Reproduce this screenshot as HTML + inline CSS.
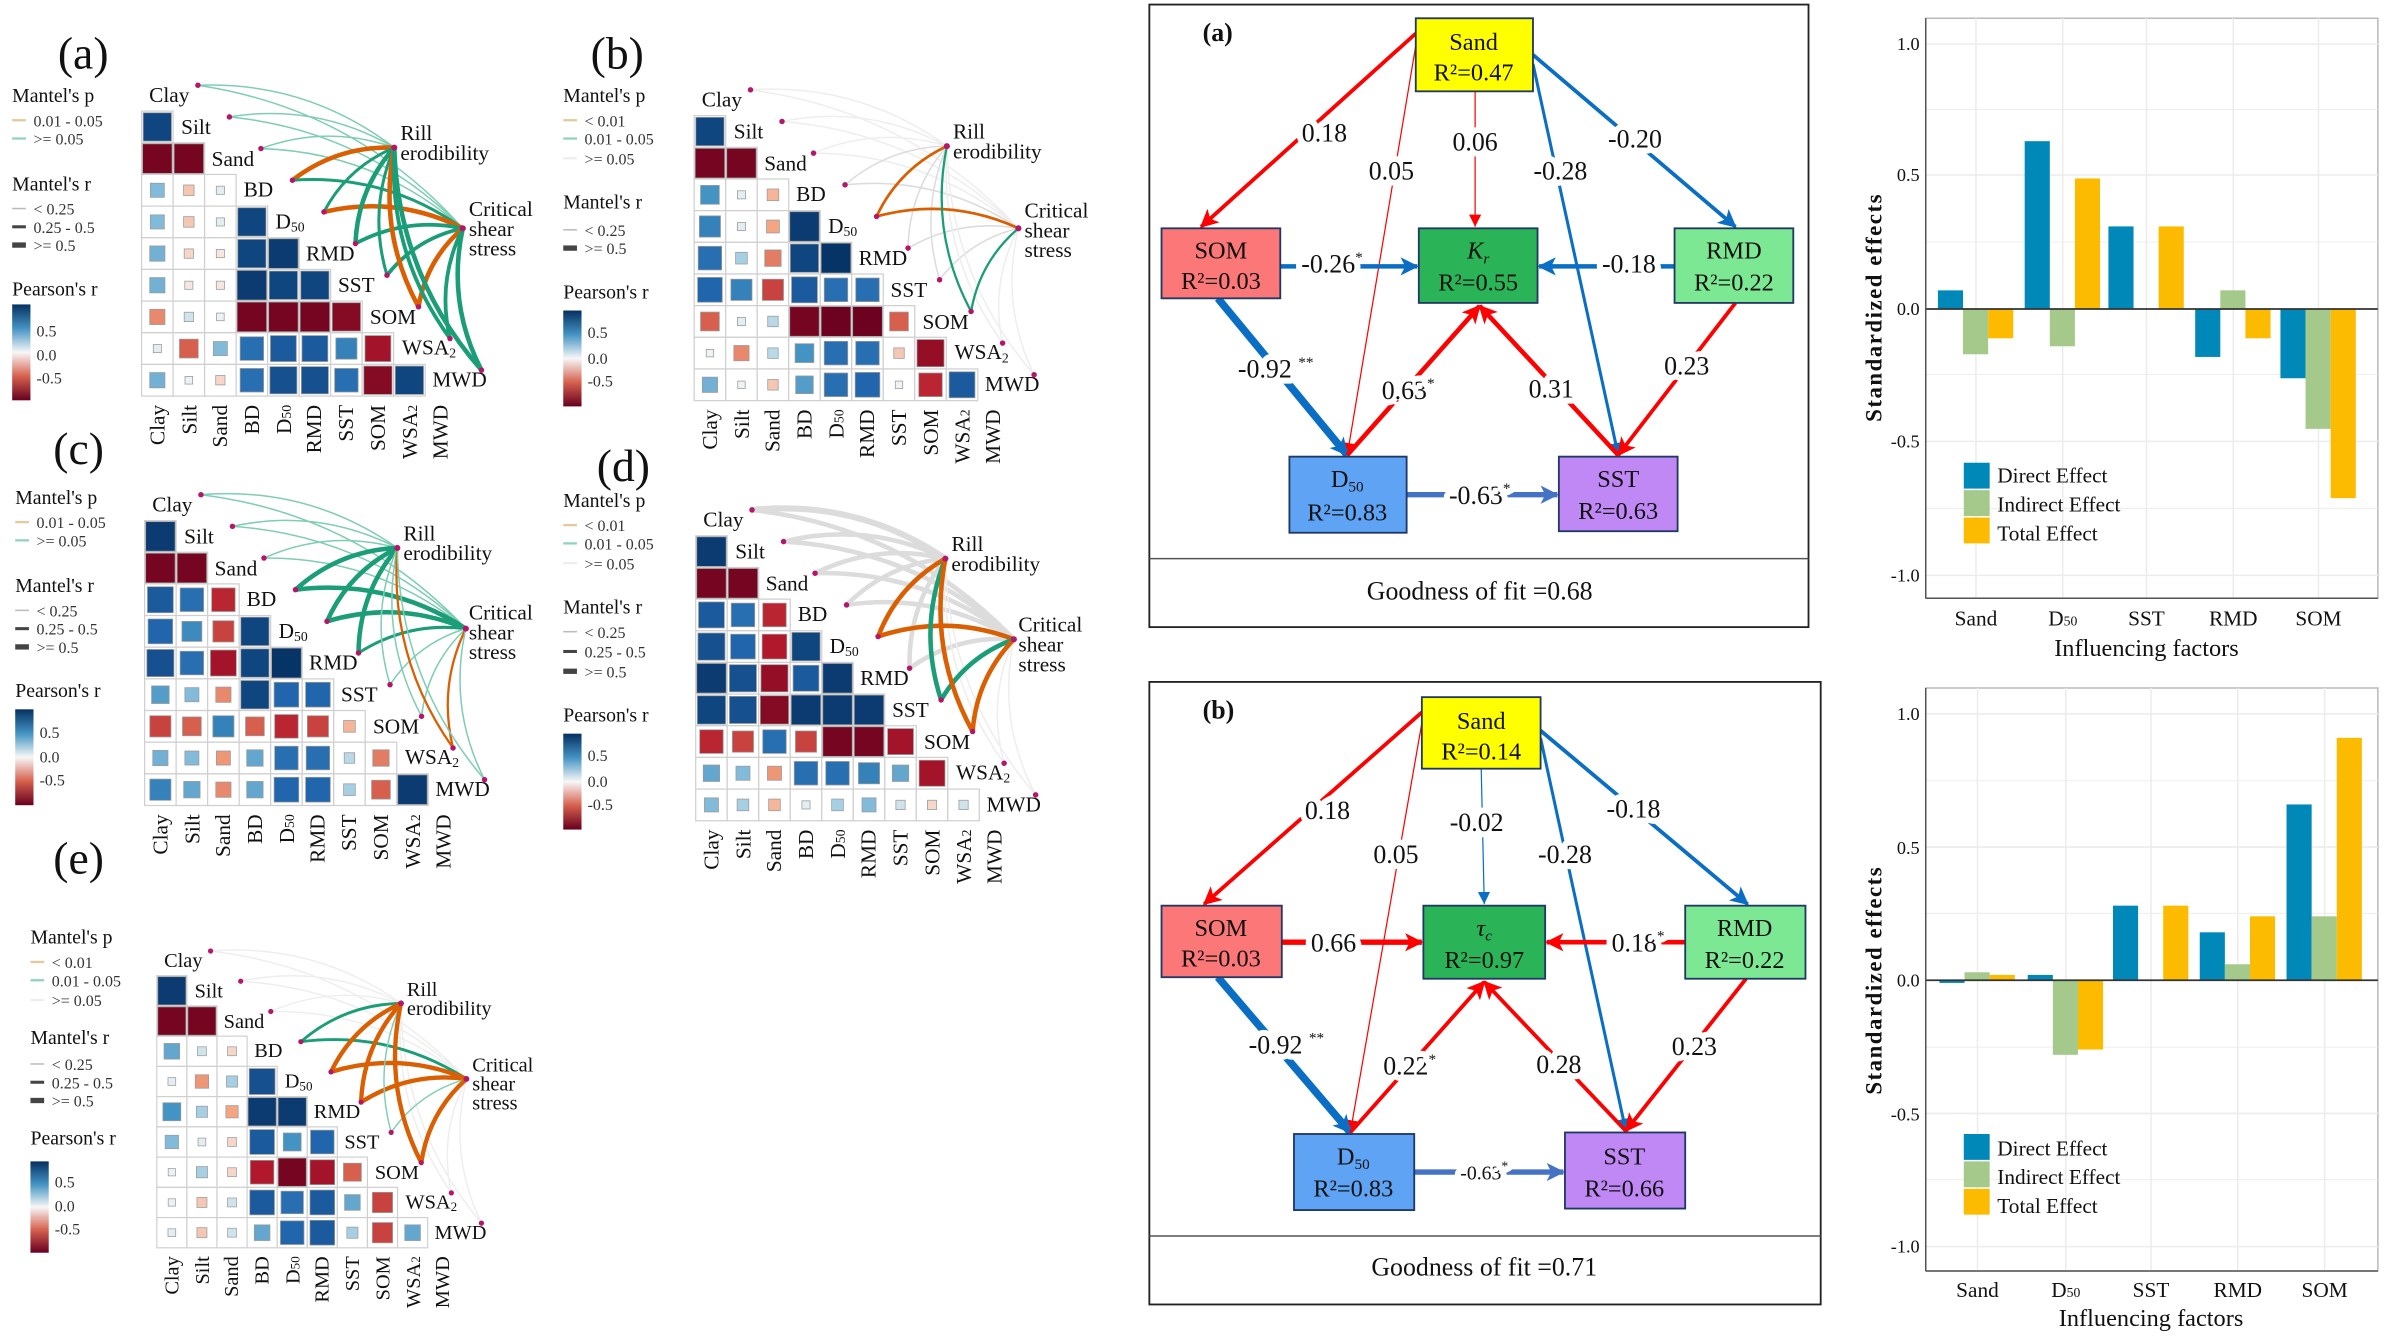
<!DOCTYPE html>
<html><head><meta charset="utf-8">
<style>
html,body{margin:0;padding:0;background:#fff;}
svg{display:block;}
svg, svg text{font-family:"Liberation Serif","DejaVu Serif",serif;}
text{fill:#111;}
.lg{font-size:13px;}
.li{font-size:10.5px;fill:#333;}
.rl{font-size:14px;}
.cl{font-size:14px;}
.sm{font-size:17px;}
.el{font-size:16px;}
.tk{font-size:12px;fill:#4d4d4d;}
</style></head>
<body>
<svg xmlns="http://www.w3.org/2000/svg" width="2387" height="1341" viewBox="0 0 1568 881" preserveAspectRatio="none" font-family="Liberation Serif, serif" style="font-family:'Liberation Serif',serif">
<defs>
<linearGradient id="cb" x1="0" y1="0" x2="0" y2="1">
<stop offset="0" stop-color="#053061"/><stop offset="0.25" stop-color="#4393c3"/><stop offset="0.5" stop-color="#f7f7f7"/><stop offset="0.75" stop-color="#d6604d"/><stop offset="1" stop-color="#67001f"/>
</linearGradient>
<marker id="mr" markerUnits="userSpaceOnUse" markerWidth="14" markerHeight="14" refX="11" refY="6" orient="auto"><path d="M0,0 L12,6 L0,12 L3,6 z" fill="#f00"/></marker>
<marker id="mrs" markerUnits="userSpaceOnUse" markerWidth="10" markerHeight="10" refX="8" refY="4" orient="auto"><path d="M0,0 L8,4 L0,8 z" fill="#f00"/></marker>
<marker id="mb" markerUnits="userSpaceOnUse" markerWidth="14" markerHeight="14" refX="11" refY="6" orient="auto"><path d="M0,0 L12,6 L0,12 L3,6 z" fill="#0a6fc4"/></marker>
<marker id="mbs" markerUnits="userSpaceOnUse" markerWidth="10" markerHeight="10" refX="8" refY="4" orient="auto"><path d="M0,0 L8,4 L0,8 z" fill="#0a6fc4"/></marker>
<marker id="mb2" markerUnits="userSpaceOnUse" markerWidth="14" markerHeight="14" refX="11" refY="6" orient="auto"><path d="M0,0 L12,6 L0,12 L3,6 z" fill="#4472c4"/></marker>
</defs>

<text x="38" y="45" font-size="30">(a)</text>
<text x="388" y="45" font-size="30">(b)</text>
<text x="35" y="305" font-size="30">(c)</text>
<text x="392" y="316" font-size="30">(d)</text>
<text x="35" y="574" font-size="30">(e)</text>

<g transform="translate(8,0)">
<text class="lg" y="67">Mantel's p</text>
<line x1="0" x2="9" y1="79" y2="79" stroke="#e6c89a" stroke-width="1.5"/><text class="li" x="14" y="83">0.01 - 0.05</text>
<line x1="0" x2="9" y1="91" y2="91" stroke="#8fd3bf" stroke-width="1.5"/><text class="li" x="14" y="95">&gt;= 0.05</text>
<text class="lg" y="125">Mantel's r</text>
<line x1="0" x2="9" y1="137" y2="137" stroke="#bbb" stroke-width="1"/><text class="li" x="14" y="141">&lt; 0.25</text>
<line x1="0" x2="9" y1="149" y2="149" stroke="#444" stroke-width="2"/><text class="li" x="14" y="153">0.25 - 0.5</text>
<line x1="0" x2="9" y1="161" y2="161" stroke="#444" stroke-width="3.5"/><text class="li" x="14" y="165">&gt;= 0.5</text>
<text class="lg" y="194">Pearson's r</text>
<rect x="0" y="200" width="12" height="63" fill="url(#cb)"/>
<text class="li" x="16" y="221">0.5</text><text class="li" x="16" y="237">0.0</text><text class="li" x="16" y="252">-0.5</text>
</g>
<g transform="translate(370,0)">
<text class="lg" y="67">Mantel's p</text>
<line x1="0" x2="9" y1="79" y2="79" stroke="#e6c89a" stroke-width="1.5"/><text class="li" x="14" y="83">&lt; 0.01</text>
<line x1="0" x2="9" y1="91" y2="91" stroke="#8fd3bf" stroke-width="1.5"/><text class="li" x="14" y="95">0.01 - 0.05</text>
<line x1="0" x2="9" y1="104" y2="104" stroke="#eee" stroke-width="1.5"/><text class="li" x="14" y="108">&gt;= 0.05</text>
<text class="lg" y="137">Mantel's r</text>
<line x1="0" x2="9" y1="151" y2="151" stroke="#bbb" stroke-width="1"/><text class="li" x="14" y="155">&lt; 0.25</text>
<line x1="0" x2="9" y1="163" y2="163" stroke="#444" stroke-width="3.5"/><text class="li" x="14" y="167">&gt;= 0.5</text>
<text class="lg" y="196">Pearson's r</text>
<rect x="0" y="204" width="12" height="63" fill="url(#cb)"/>
<text class="li" x="16" y="222">0.5</text><text class="li" x="16" y="239">0.0</text><text class="li" x="16" y="254">-0.5</text>
</g>
<g transform="translate(10,264)">
<text class="lg" y="67">Mantel's p</text>
<line x1="0" x2="9" y1="79" y2="79" stroke="#e6c89a" stroke-width="1.5"/><text class="li" x="14" y="83">0.01 - 0.05</text>
<line x1="0" x2="9" y1="91" y2="91" stroke="#8fd3bf" stroke-width="1.5"/><text class="li" x="14" y="95">&gt;= 0.05</text>
<text class="lg" y="125">Mantel's r</text>
<line x1="0" x2="9" y1="137" y2="137" stroke="#bbb" stroke-width="1"/><text class="li" x="14" y="141">&lt; 0.25</text>
<line x1="0" x2="9" y1="149" y2="149" stroke="#444" stroke-width="2"/><text class="li" x="14" y="153">0.25 - 0.5</text>
<line x1="0" x2="9" y1="161" y2="161" stroke="#444" stroke-width="3.5"/><text class="li" x="14" y="165">&gt;= 0.5</text>
<text class="lg" y="194">Pearson's r</text>
<rect x="0" y="202" width="12" height="63" fill="url(#cb)"/>
<text class="li" x="16" y="221">0.5</text><text class="li" x="16" y="237">0.0</text><text class="li" x="16" y="252">-0.5</text>
</g>
<g transform="translate(370,266)">
<text class="lg" y="67">Mantel's p</text>
<line x1="0" x2="9" y1="79" y2="79" stroke="#e6c89a" stroke-width="1.5"/><text class="li" x="14" y="83">&lt; 0.01</text>
<line x1="0" x2="9" y1="91" y2="91" stroke="#8fd3bf" stroke-width="1.5"/><text class="li" x="14" y="95">0.01 - 0.05</text>
<line x1="0" x2="9" y1="104" y2="104" stroke="#eee" stroke-width="1.5"/><text class="li" x="14" y="108">&gt;= 0.05</text>
<text class="lg" y="137">Mantel's r</text>
<line x1="0" x2="9" y1="149" y2="149" stroke="#bbb" stroke-width="1"/><text class="li" x="14" y="153">&lt; 0.25</text>
<line x1="0" x2="9" y1="162" y2="162" stroke="#444" stroke-width="2"/><text class="li" x="14" y="166">0.25 - 0.5</text>
<line x1="0" x2="9" y1="175" y2="175" stroke="#444" stroke-width="3.5"/><text class="li" x="14" y="179">&gt;= 0.5</text>
<text class="lg" y="208">Pearson's r</text>
<rect x="0" y="216" width="12" height="63" fill="url(#cb)"/>
<text class="li" x="16" y="234">0.5</text><text class="li" x="16" y="251">0.0</text><text class="li" x="16" y="266">-0.5</text>
</g>
<g transform="translate(20,553)">
<text class="lg" y="67">Mantel's p</text>
<line x1="0" x2="9" y1="79" y2="79" stroke="#e6c89a" stroke-width="1.5"/><text class="li" x="14" y="83">&lt; 0.01</text>
<line x1="0" x2="9" y1="91" y2="91" stroke="#8fd3bf" stroke-width="1.5"/><text class="li" x="14" y="95">0.01 - 0.05</text>
<line x1="0" x2="9" y1="104" y2="104" stroke="#eee" stroke-width="1.5"/><text class="li" x="14" y="108">&gt;= 0.05</text>
<text class="lg" y="133">Mantel's r</text>
<line x1="0" x2="9" y1="146" y2="146" stroke="#bbb" stroke-width="1"/><text class="li" x="14" y="150">&lt; 0.25</text>
<line x1="0" x2="9" y1="158" y2="158" stroke="#444" stroke-width="2"/><text class="li" x="14" y="162">0.25 - 0.5</text>
<line x1="0" x2="9" y1="170" y2="170" stroke="#444" stroke-width="3.5"/><text class="li" x="14" y="174">&gt;= 0.5</text>
<text class="lg" y="199">Pearson's r</text>
<rect x="0" y="210" width="12" height="60" fill="url(#cb)"/>
<text class="li" x="16" y="227">0.5</text><text class="li" x="16" y="243">0.0</text><text class="li" x="16" y="258">-0.5</text>
</g>

<g transform="translate(93,73)"><g id="ga"></g>
<text class="rl" x="5" y="-6">Clay</text><text class="rl" x="26" y="15">Silt</text><text class="rl" x="46" y="36">Sand</text><text class="rl" x="67" y="56">BD</text><text class="rl" x="88" y="77">D<tspan font-size="9" dy="2">50</tspan></text><text class="rl" x="108" y="98">RMD</text><text class="rl" x="129" y="119">SST</text><text class="rl" x="150" y="140">SOM</text><text class="rl" x="171" y="160">WSA<tspan font-size="9" dy="2">2</tspan></text><text class="rl" x="191" y="181">MWD</text>
<text class="rl" x="170" y="19">Rill</text><text class="rl" x="170" y="32">erodibility</text><text class="rl" x="215" y="69">Critical</text><text class="rl" x="215" y="82">shear</text><text class="rl" x="215" y="95">stress</text>
<g class="cl"><text transform="translate(15,193) rotate(-90)" text-anchor="end">Clay</text><text transform="translate(36,193) rotate(-90)" text-anchor="end">Silt</text><text transform="translate(56,193) rotate(-90)" text-anchor="end">Sand</text><text transform="translate(77,193) rotate(-90)" text-anchor="end">BD</text><text transform="translate(98,193) rotate(-90)" text-anchor="end">D<tspan font-size="9">50</tspan></text><text transform="translate(118,193) rotate(-90)" text-anchor="end">RMD</text><text transform="translate(139,193) rotate(-90)" text-anchor="end">SST</text><text transform="translate(160,193) rotate(-90)" text-anchor="end">SOM</text><text transform="translate(181,193) rotate(-90)" text-anchor="end">WSA<tspan font-size="9">2</tspan></text><text transform="translate(201,193) rotate(-90)" text-anchor="end">MWD</text></g>
</g>

<g transform="translate(456,76)"><g id="gb"></g>
<text class="rl" x="5" y="-6">Clay</text><text class="rl" x="26" y="15">Silt</text><text class="rl" x="46" y="36">Sand</text><text class="rl" x="67" y="56">BD</text><text class="rl" x="88" y="77">D<tspan font-size="9" dy="2">50</tspan></text><text class="rl" x="108" y="98">RMD</text><text class="rl" x="129" y="119">SST</text><text class="rl" x="150" y="140">SOM</text><text class="rl" x="171" y="160">WSA<tspan font-size="9" dy="2">2</tspan></text><text class="rl" x="191" y="181">MWD</text>
<text class="rl" x="170" y="15">Rill</text><text class="rl" x="170" y="28">erodibility</text><text class="rl" x="217" y="67">Critical</text><text class="rl" x="217" y="80">shear</text><text class="rl" x="217" y="93">stress</text>
<g class="cl"><text transform="translate(15,193) rotate(-90)" text-anchor="end">Clay</text><text transform="translate(36,193) rotate(-90)" text-anchor="end">Silt</text><text transform="translate(56,193) rotate(-90)" text-anchor="end">Sand</text><text transform="translate(77,193) rotate(-90)" text-anchor="end">BD</text><text transform="translate(98,193) rotate(-90)" text-anchor="end">D<tspan font-size="9">50</tspan></text><text transform="translate(118,193) rotate(-90)" text-anchor="end">RMD</text><text transform="translate(139,193) rotate(-90)" text-anchor="end">SST</text><text transform="translate(160,193) rotate(-90)" text-anchor="end">SOM</text><text transform="translate(181,193) rotate(-90)" text-anchor="end">WSA<tspan font-size="9">2</tspan></text><text transform="translate(201,193) rotate(-90)" text-anchor="end">MWD</text></g>
</g>

<g transform="translate(95,342)"><g id="gc"></g>
<text class="rl" x="5" y="-6">Clay</text><text class="rl" x="26" y="15">Silt</text><text class="rl" x="46" y="36">Sand</text><text class="rl" x="67" y="56">BD</text><text class="rl" x="88" y="77">D<tspan font-size="9" dy="2">50</tspan></text><text class="rl" x="108" y="98">RMD</text><text class="rl" x="129" y="119">SST</text><text class="rl" x="150" y="140">SOM</text><text class="rl" x="171" y="160">WSA<tspan font-size="9" dy="2">2</tspan></text><text class="rl" x="191" y="181">MWD</text>
<text class="rl" x="170" y="13">Rill</text><text class="rl" x="170" y="26">erodibility</text><text class="rl" x="213" y="65">Critical</text><text class="rl" x="213" y="78">shear</text><text class="rl" x="213" y="91">stress</text>
<g class="cl"><text transform="translate(15,193) rotate(-90)" text-anchor="end">Clay</text><text transform="translate(36,193) rotate(-90)" text-anchor="end">Silt</text><text transform="translate(56,193) rotate(-90)" text-anchor="end">Sand</text><text transform="translate(77,193) rotate(-90)" text-anchor="end">BD</text><text transform="translate(98,193) rotate(-90)" text-anchor="end">D<tspan font-size="9">50</tspan></text><text transform="translate(118,193) rotate(-90)" text-anchor="end">RMD</text><text transform="translate(139,193) rotate(-90)" text-anchor="end">SST</text><text transform="translate(160,193) rotate(-90)" text-anchor="end">SOM</text><text transform="translate(181,193) rotate(-90)" text-anchor="end">WSA<tspan font-size="9">2</tspan></text><text transform="translate(201,193) rotate(-90)" text-anchor="end">MWD</text></g>
</g>

<g transform="translate(457,352)"><g id="gd"></g>
<text class="rl" x="5" y="-6">Clay</text><text class="rl" x="26" y="15">Silt</text><text class="rl" x="46" y="36">Sand</text><text class="rl" x="67" y="56">BD</text><text class="rl" x="88" y="77">D<tspan font-size="9" dy="2">50</tspan></text><text class="rl" x="108" y="98">RMD</text><text class="rl" x="129" y="119">SST</text><text class="rl" x="150" y="140">SOM</text><text class="rl" x="171" y="160">WSA<tspan font-size="9" dy="2">2</tspan></text><text class="rl" x="191" y="181">MWD</text>
<text class="rl" x="168" y="10">Rill</text><text class="rl" x="168" y="23">erodibility</text><text class="rl" x="212" y="63">Critical</text><text class="rl" x="212" y="76">shear</text><text class="rl" x="212" y="89">stress</text>
<g class="cl"><text transform="translate(15,193) rotate(-90)" text-anchor="end">Clay</text><text transform="translate(36,193) rotate(-90)" text-anchor="end">Silt</text><text transform="translate(56,193) rotate(-90)" text-anchor="end">Sand</text><text transform="translate(77,193) rotate(-90)" text-anchor="end">BD</text><text transform="translate(98,193) rotate(-90)" text-anchor="end">D<tspan font-size="9">50</tspan></text><text transform="translate(118,193) rotate(-90)" text-anchor="end">RMD</text><text transform="translate(139,193) rotate(-90)" text-anchor="end">SST</text><text transform="translate(160,193) rotate(-90)" text-anchor="end">SOM</text><text transform="translate(181,193) rotate(-90)" text-anchor="end">WSA<tspan font-size="9">2</tspan></text><text transform="translate(201,193) rotate(-90)" text-anchor="end">MWD</text></g>
</g>

<g transform="translate(103,641) scale(0.955)"><g id="ge"></g>
<text class="rl" x="5" y="-6">Clay</text><text class="rl" x="26" y="15">Silt</text><text class="rl" x="46" y="36">Sand</text><text class="rl" x="67" y="56">BD</text><text class="rl" x="88" y="77">D<tspan font-size="9" dy="2">50</tspan></text><text class="rl" x="108" y="98">RMD</text><text class="rl" x="129" y="119">SST</text><text class="rl" x="150" y="140">SOM</text><text class="rl" x="171" y="160">WSA<tspan font-size="9" dy="2">2</tspan></text><text class="rl" x="191" y="181">MWD</text>
<text class="rl" x="172" y="14">Rill</text><text class="rl" x="172" y="27">erodibility</text><text class="rl" x="217" y="66">Critical</text><text class="rl" x="217" y="79">shear</text><text class="rl" x="217" y="92">stress</text>
<g class="cl"><text transform="translate(15,193) rotate(-90)" text-anchor="end">Clay</text><text transform="translate(36,193) rotate(-90)" text-anchor="end">Silt</text><text transform="translate(56,193) rotate(-90)" text-anchor="end">Sand</text><text transform="translate(77,193) rotate(-90)" text-anchor="end">BD</text><text transform="translate(98,193) rotate(-90)" text-anchor="end">D<tspan font-size="9">50</tspan></text><text transform="translate(118,193) rotate(-90)" text-anchor="end">RMD</text><text transform="translate(139,193) rotate(-90)" text-anchor="end">SST</text><text transform="translate(160,193) rotate(-90)" text-anchor="end">SOM</text><text transform="translate(181,193) rotate(-90)" text-anchor="end">WSA<tspan font-size="9">2</tspan></text><text transform="translate(201,193) rotate(-90)" text-anchor="end">MWD</text></g>
</g>

<!-- SEM (a) -->
<rect x="755" y="3" width="433" height="409" fill="none" stroke="#222" stroke-width="1.2"/>
<line x1="755" y1="367" x2="1188" y2="367" stroke="#555" stroke-width="1"/>
<text x="790" y="27" font-size="17" font-weight="bold">(a)</text>
<g fill="none">
<line x1="930" y1="22" x2="789" y2="149" stroke="#f00" stroke-width="2.5" marker-end="url(#mr)"/>
<line x1="930" y1="30" x2="885" y2="299" stroke="#f00" stroke-width="0.8" marker-end="url(#mrs)"/>
<line x1="969" y1="60" x2="969" y2="149" stroke="#f00" stroke-width="0.8" marker-end="url(#mrs)"/>
<line x1="1007" y1="42" x2="1063" y2="299" stroke="#0a6fc4" stroke-width="2" marker-end="url(#mbs)"/>
<line x1="1007" y1="36" x2="1140" y2="149" stroke="#0a6fc4" stroke-width="2.5" marker-end="url(#mb)"/>
<line x1="841" y1="175" x2="931" y2="175" stroke="#0a6fc4" stroke-width="3" marker-end="url(#mb)"/>
<line x1="1100" y1="175" x2="1011" y2="175" stroke="#0a6fc4" stroke-width="3" marker-end="url(#mb)"/>
<line x1="800" y1="196" x2="885" y2="299" stroke="#0a6fc4" stroke-width="5" marker-end="url(#mb)"/>
<line x1="885" y1="299" x2="972" y2="201" stroke="#f00" stroke-width="3" marker-end="url(#mr)"/>
<line x1="1063" y1="299" x2="972" y2="201" stroke="#f00" stroke-width="3" marker-end="url(#mr)"/>
<line x1="1140" y1="199" x2="1063" y2="299" stroke="#f00" stroke-width="2.5" marker-end="url(#mr)"/>
<line x1="924" y1="325" x2="1023" y2="325" stroke="#4472c4" stroke-width="3.5" marker-end="url(#mb2)"/>
</g>
<g class="sm" text-anchor="middle" stroke="#fff" stroke-width="8" paint-order="stroke" stroke-linejoin="round">
<text x="870" y="93">0.18</text><text x="914" y="118">0.05</text><text x="969" y="99">0.06</text><text x="1025" y="118">-0.28</text><text x="1074" y="97">-0.20</text>
<text x="875" y="179">-0.26<tspan font-size="10" dy="-7">*</tspan></text><text x="1070" y="179">-0.18</text>
<text x="838" y="248">-0.92 <tspan font-size="10" dy="-7">**</tspan></text><text x="925" y="262">0.63<tspan font-size="10" dy="-7">*</tspan></text><text x="1019" y="261">0.31</text><text x="1108" y="246">0.23</text>
<text x="972" y="331">-0.63<tspan font-size="10" dy="-7">*</tspan></text>
</g>
<rect x="930" y="12" width="77" height="48" fill="#ffff00" stroke="#1f3864" stroke-width="1.2"/>
<rect x="763" y="150" width="78" height="46" fill="#fc7777" stroke="#1f3864" stroke-width="1.2"/>
<rect x="932" y="150" width="78" height="49" fill="#2bb457" stroke="#1f3864" stroke-width="1.2"/>
<rect x="1100" y="150" width="78" height="49" fill="#7de894" stroke="#1f3864" stroke-width="1.2"/>
<rect x="847" y="300" width="77" height="50" fill="#5ea3f4" stroke="#1f3864" stroke-width="1.2"/>
<rect x="1024" y="300" width="78" height="49" fill="#bf88f5" stroke="#1f3864" stroke-width="1.2"/>
<g class="el" text-anchor="middle">
<text x="968" y="33">Sand</text><text x="968" y="53">R²=0.47</text>
<text x="802" y="170">SOM</text><text x="802" y="190">R²=0.03</text>
<text x="971" y="170" font-style="italic">K<tspan font-size="10" dy="3">r</tspan></text><text x="971" y="191">R²=0.55</text>
<text x="1139" y="170">RMD</text><text x="1139" y="191">R²=0.22</text>
<text x="885" y="320">D<tspan font-size="10" dy="3">50</tspan></text><text x="885" y="342">R²=0.83</text>
<text x="1063" y="320">SST</text><text x="1063" y="341">R²=0.63</text>
<text x="972" y="394" font-size="17">Goodness of fit =0.68</text>
</g>

<!-- SEM (b) -->
<rect x="755" y="448" width="441" height="409" fill="none" stroke="#222" stroke-width="1.2"/>
<line x1="755" y1="812" x2="1196" y2="812" stroke="#555" stroke-width="1"/>
<text x="790" y="472" font-size="17" font-weight="bold">(b)</text>
<g fill="none">
<line x1="934" y1="468" x2="791" y2="594" stroke="#f00" stroke-width="2.5" marker-end="url(#mr)"/>
<line x1="934" y1="475" x2="887" y2="744" stroke="#f00" stroke-width="0.8" marker-end="url(#mrs)"/>
<line x1="973" y1="505" x2="975" y2="594" stroke="#0a6fc4" stroke-width="0.8" marker-end="url(#mbs)"/>
<line x1="1012" y1="485" x2="1068" y2="743" stroke="#0a6fc4" stroke-width="2" marker-end="url(#mbs)"/>
<line x1="1012" y1="480" x2="1148" y2="594" stroke="#0a6fc4" stroke-width="2.5" marker-end="url(#mb)"/>
<line x1="842" y1="619" x2="934" y2="619" stroke="#f00" stroke-width="3.5" marker-end="url(#mr)"/>
<line x1="1107" y1="619" x2="1016" y2="619" stroke="#f00" stroke-width="3" marker-end="url(#mr)"/>
<line x1="800" y1="642" x2="887" y2="744" stroke="#0a6fc4" stroke-width="5" marker-end="url(#mb)"/>
<line x1="887" y1="744" x2="975" y2="645" stroke="#f00" stroke-width="2.5" marker-end="url(#mr)"/>
<line x1="1068" y1="743" x2="975" y2="645" stroke="#f00" stroke-width="2.5" marker-end="url(#mr)"/>
<line x1="1147" y1="643" x2="1068" y2="743" stroke="#f00" stroke-width="2.5" marker-end="url(#mr)"/>
<line x1="929" y1="770" x2="1027" y2="770" stroke="#4472c4" stroke-width="3.5" marker-end="url(#mb2)"/>
</g>
<g class="sm" text-anchor="middle" stroke="#fff" stroke-width="8" paint-order="stroke" stroke-linejoin="round">
<text x="872" y="538">0.18</text><text x="917" y="567">0.05</text><text x="970" y="546">-0.02</text><text x="1028" y="567">-0.28</text><text x="1073" y="537">-0.18</text>
<text x="876" y="625">0.66</text><text x="1076" y="625">0.18<tspan font-size="10" dy="-7">*</tspan></text>
<text x="845" y="692">-0.92 <tspan font-size="10" dy="-7">**</tspan></text><text x="926" y="706">0.22<tspan font-size="10" dy="-7">*</tspan></text><text x="1024" y="705">0.28</text><text x="1113" y="693">0.23</text>
<text x="975" y="775" font-size="13">-0.63<tspan font-size="9" dy="-6">*</tspan></text>
</g>
<rect x="934" y="458" width="78" height="47" fill="#ffff00" stroke="#1f3864" stroke-width="1.2"/>
<rect x="763" y="595" width="79" height="47" fill="#fc7777" stroke="#1f3864" stroke-width="1.2"/>
<rect x="935" y="595" width="80" height="48" fill="#2bb457" stroke="#1f3864" stroke-width="1.2"/>
<rect x="1107" y="595" width="79" height="48" fill="#7de894" stroke="#1f3864" stroke-width="1.2"/>
<rect x="850" y="745" width="79" height="50" fill="#5ea3f4" stroke="#1f3864" stroke-width="1.2"/>
<rect x="1028" y="744" width="79" height="50" fill="#bf88f5" stroke="#1f3864" stroke-width="1.2"/>
<g class="el" text-anchor="middle">
<text x="973" y="479">Sand</text><text x="973" y="499">R²=0.14</text>
<text x="802" y="615">SOM</text><text x="802" y="635">R²=0.03</text>
<text x="975" y="615" font-style="italic">τ<tspan font-size="10" dy="3">c</tspan></text><text x="975" y="636">R²=0.97</text>
<text x="1146" y="615">RMD</text><text x="1146" y="636">R²=0.22</text>
<text x="889" y="765">D<tspan font-size="10" dy="3">50</tspan></text><text x="889" y="786">R²=0.83</text>
<text x="1067" y="765">SST</text><text x="1067" y="786">R²=0.66</text>
<text x="975" y="838" font-size="17">Goodness of fit =0.71</text>
</g>

<!-- BAR (a) -->
<g>
<rect x="1265" y="12" width="297" height="381" fill="#fff" stroke="#bbb"/>
<g stroke="#ececec" stroke-width="1">
<line x1="1265" x2="1562" y1="29" y2="29"/><line x1="1265" x2="1562" y1="72" y2="72" stroke-width="0.6"/><line x1="1265" x2="1562" y1="115" y2="115"/><line x1="1265" x2="1562" y1="159" y2="159" stroke-width="0.6"/><line x1="1265" x2="1562" y1="246" y2="246" stroke-width="0.6"/><line x1="1265" x2="1562" y1="290" y2="290"/><line x1="1265" x2="1562" y1="334" y2="334" stroke-width="0.6"/><line x1="1265" x2="1562" y1="378" y2="378"/>
<line x1="1298" x2="1298" y1="12" y2="393"/><line x1="1355" x2="1355" y1="12" y2="393"/><line x1="1410" x2="1410" y1="12" y2="393"/><line x1="1467" x2="1467" y1="12" y2="393"/><line x1="1523" x2="1523" y1="12" y2="393"/>
</g>
<g fill="#0089b8"><rect x="1273" y="190.75" width="16.5" height="12.25"/><rect x="1330" y="92.75" width="16.5" height="110.25"/><rect x="1385" y="148.75" width="16.5" height="54.25"/><rect x="1442" y="203" width="16.5" height="31.5"/><rect x="1498" y="203" width="16.5" height="45.5"/></g>
<g fill="#a5c98b"><rect x="1289.5" y="203" width="16.5" height="29.75"/><rect x="1346.5" y="203" width="16.5" height="24.5"/><rect x="1458.5" y="190.75" width="16.5" height="12.25"/><rect x="1514.5" y="203" width="16.5" height="78.75"/></g>
<g fill="#fdbb00"><rect x="1306" y="203" width="16.5" height="19.25"/><rect x="1363" y="117.25" width="16.5" height="85.75"/><rect x="1418" y="148.75" width="16.5" height="54.25"/><rect x="1475" y="203" width="16.5" height="19.25"/><rect x="1531" y="203" width="16.5" height="124.25"/></g>
<line x1="1265" x2="1562" y1="203" y2="203" stroke="#333" stroke-width="1.2"/>
<line x1="1265" x2="1265" y1="12" y2="393" stroke="#555"/><line x1="1265" x2="1562" y1="393" y2="393" stroke="#555"/>
<g class="tk" text-anchor="end"><text x="1261" y="33">1.0</text><text x="1261" y="119">0.5</text><text x="1261" y="207">0.0</text><text x="1261" y="294">-0.5</text><text x="1261" y="382">-1.0</text></g>
<g class="tk" text-anchor="middle"><text x="1298" y="411" font-size="14">Sand</text><text x="1355" y="411" font-size="14">D<tspan font-size="9">50</tspan></text><text x="1410" y="411" font-size="14">SST</text><text x="1467" y="411" font-size="14">RMD</text><text x="1523" y="411" font-size="14">SOM</text></g>
<text x="1410" y="431" text-anchor="middle" font-size="16">Influencing factors</text>
<text transform="translate(1236,202) rotate(-90)" text-anchor="middle" font-size="15" font-weight="bold" letter-spacing="1">Standardized effects</text>
<rect x="1290" y="304" width="17" height="17" fill="#0089b8"/><rect x="1290" y="322" width="17" height="17" fill="#a5c98b"/><rect x="1290" y="340" width="17" height="17" fill="#fdbb00"/>
<g font-size="14"><text x="1312" y="317">Direct Effect</text><text x="1312" y="336">Indirect Effect</text><text x="1312" y="355">Total Effect</text></g>
</g>

<!-- BAR (b) -->
<g>
<rect x="1265" y="452" width="297" height="383" fill="#fff" stroke="#bbb"/>
<g stroke="#ececec" stroke-width="1">
<line x1="1265" x2="1562" y1="469" y2="469"/><line x1="1265" x2="1562" y1="513" y2="513" stroke-width="0.6"/><line x1="1265" x2="1562" y1="556.5" y2="556.5"/><line x1="1265" x2="1562" y1="600" y2="600" stroke-width="0.6"/><line x1="1265" x2="1562" y1="688" y2="688" stroke-width="0.6"/><line x1="1265" x2="1562" y1="731.5" y2="731.5"/><line x1="1265" x2="1562" y1="775" y2="775" stroke-width="0.6"/><line x1="1265" x2="1562" y1="819" y2="819"/>
<line x1="1299" x2="1299" y1="452" y2="835"/><line x1="1357" x2="1357" y1="452" y2="835"/><line x1="1413" x2="1413" y1="452" y2="835"/><line x1="1470" x2="1470" y1="452" y2="835"/><line x1="1527" x2="1527" y1="452" y2="835"/>
</g>
<g fill="#0089b8"><rect x="1274" y="644" width="16.5" height="1.75"/><rect x="1332" y="640.5" width="16.5" height="3.5"/><rect x="1388" y="595" width="16.5" height="49"/><rect x="1445" y="612.5" width="16.5" height="31.5"/><rect x="1502" y="528.5" width="16.5" height="115.5"/></g>
<g fill="#a5c98b"><rect x="1290.5" y="638.75" width="16.5" height="5.25"/><rect x="1348.5" y="644" width="16.5" height="49"/><rect x="1461.5" y="633.5" width="16.5" height="10.5"/><rect x="1518.5" y="602" width="16.5" height="42"/></g>
<g fill="#fdbb00"><rect x="1307" y="640.5" width="16.5" height="3.5"/><rect x="1365" y="644" width="16.5" height="45.5"/><rect x="1421" y="595" width="16.5" height="49"/><rect x="1478" y="602" width="16.5" height="42"/><rect x="1535" y="484.75" width="16.5" height="159.25"/></g>
<line x1="1265" x2="1562" y1="644" y2="644" stroke="#333" stroke-width="1.2"/>
<line x1="1265" x2="1265" y1="452" y2="835" stroke="#555"/><line x1="1265" x2="1562" y1="835" y2="835" stroke="#555"/>
<g class="tk" text-anchor="end"><text x="1261" y="473">1.0</text><text x="1261" y="561">0.5</text><text x="1261" y="648">0.0</text><text x="1261" y="736">-0.5</text><text x="1261" y="823">-1.0</text></g>
<g class="tk" text-anchor="middle"><text x="1299" y="852" font-size="14">Sand</text><text x="1357" y="852" font-size="14">D<tspan font-size="9">50</tspan></text><text x="1413" y="852" font-size="14">SST</text><text x="1470" y="852" font-size="14">RMD</text><text x="1527" y="852" font-size="14">SOM</text></g>
<text x="1413" y="871" text-anchor="middle" font-size="16">Influencing factors</text>
<text transform="translate(1236,644) rotate(-90)" text-anchor="middle" font-size="15" font-weight="bold" letter-spacing="1">Standardized effects</text>
<rect x="1290" y="745" width="17" height="17" fill="#0089b8"/><rect x="1290" y="763" width="17" height="17" fill="#a5c98b"/><rect x="1290" y="781" width="17" height="17" fill="#fdbb00"/>
<g font-size="14"><text x="1312" y="759">Direct Effect</text><text x="1312" y="778">Indirect Effect</text><text x="1312" y="797">Total Effect</text></g>
</g>
</svg>
<script>
(function(){
var NS="http://www.w3.org/2000/svg";
var stops=[[-1,[103,0,31]],[-0.75,[178,24,43]],[-0.5,[214,96,77]],[-0.25,[244,165,130]],[0,[247,247,247]],[0.25,[146,197,222]],[0.5,[67,147,195]],[0.75,[33,102,172]],[1,[5,48,97]]];
function col(r){for(var i=0;i<stops.length-1;i++){var a=stops[i],b=stops[i+1];if(r<=b[0]){var t=(r-a[0])/(b[0]-a[0]);var c=a[1].map(function(v,k){return Math.round(v+(b[1][k]-v)*t);});return "rgb("+c.join(",")+")";}}return "rgb(5,48,97)";}
function el(n,at,p){var e=document.createElementNS(NS,n);for(var k in at)e.setAttribute(k,at[k]);p.appendChild(e);return e;}
var C=20.7,R=20.8;
var G="#1b9e77",GL="#7fcdb4",O="#d95f02",Y="#dcdcdc",YL="#eeeeee";
var P={
a:{v:[[0.9],[-0.95,-0.95],[0.3,-0.15,0.05],[0.3,-0.15,0.05,0.9],[0.35,-0.1,-0.05,0.9,0.95],[0.35,-0.05,-0.05,0.95,0.9,0.9],[-0.35,0.1,0.03,-0.95,-0.95,-0.95,-0.9],[0.05,-0.5,0.3,0.7,0.8,0.8,0.6,-0.8],[0.35,0.03,-0.1,0.7,0.85,0.85,0.7,-0.9,0.9]],
 R:[166,24],Cc:[211,77],
 e:[[0,'R',GL,1],[0,'C',GL,1],[1,'R',GL,1],[1,'C',GL,1],[2,'R',GL,1],[2,'C',GL,1],[3,'R',O,3],[3,'C',G,2],[4,'C',O,3],[4,'R',G,2],[5,'R',G,3],[5,'C',G,2.5],[6,'R',G,2],[6,'C',G,2.5],[7,'R',O,3],[7,'C',O,3],[8,'R',G,2.5],[8,'C',G,2.5],[9,'R',G,3],[9,'C',G,3]]},
b:{v:[[0.9],[-0.95,-0.95],[0.5,0.05,-0.2],[0.6,0.05,-0.25,0.95],[0.7,0.2,-0.4,0.9,0.98],[0.75,0.6,-0.6,0.8,0.7,0.7],[-0.5,0.05,0.15,-0.95,-0.98,-0.98,-0.5],[0.02,-0.35,0.15,0.5,0.7,0.7,-0.15,-0.85],[0.35,0.02,-0.15,0.45,0.7,0.75,0.02,-0.7,0.8]],
 R:[166,20],Cc:[213,74],
 e:[[0,'R',YL,1],[0,'C',YL,1],[1,'R',YL,1],[1,'C',YL,1],[2,'R',YL,1],[2,'C',YL,1],[3,'R',Y,1],[3,'C',Y,1],[4,'R',O,1.8],[4,'C',O,1.8],[5,'R',Y,1],[5,'C',Y,1],[6,'R',Y,1],[6,'C',Y,1],[7,'R',G,1.5],[7,'C',G,1.5],[8,'R',YL,1],[8,'C',YL,1],[9,'R',YL,1],[9,'C',YL,1]]},
c:{v:[[0.95],[-0.95,-0.95],[0.8,0.7,-0.7],[0.75,0.55,-0.6,0.9],[0.85,0.7,-0.8,0.9,0.98],[0.45,0.3,-0.35,0.9,0.75,0.75],[-0.6,-0.5,0.6,-0.5,-0.7,-0.6,-0.2],[0.35,0.3,-0.3,0.4,0.7,0.7,0.15,-0.4],[0.6,0.4,-0.35,0.4,0.75,0.75,0.2,-0.5,0.95]],
 R:[166,18],Cc:[211,71],
 e:[[0,'R',GL,1],[0,'C',GL,1],[1,'R',GL,1],[1,'C',GL,1],[2,'R',GL,1],[2,'C',GL,1],[3,'R',G,3],[3,'C',G,3],[4,'R',G,3],[4,'C',G,3],[5,'R',G,3],[5,'C',G,2],[6,'R',GL,1],[6,'C',GL,1],[7,'R',GL,1],[7,'C',GL,1],[8,'R',O,1.5],[8,'C',O,1.5],[9,'R',GL,1],[9,'C',GL,1]]},
d:{v:[[0.95],[-0.95,-0.95],[0.8,0.7,-0.7],[0.85,0.75,-0.75,0.9],[0.95,0.85,-0.85,0.8,0.95],[0.9,0.85,-0.9,0.95,0.95,0.95],[-0.7,-0.6,0.7,-0.6,-0.95,-0.95,-0.8],[0.4,0.3,-0.3,0.7,0.7,0.6,0.4,-0.8],[0.3,0.2,-0.2,0.05,0.2,0.3,0.1,-0.1,0.1]],
 R:[164,15],Cc:[209,68],
 e:[[0,'R',Y,4],[0,'C',Y,3],[1,'R',Y,3],[1,'C',Y,3],[2,'R',Y,3],[2,'C',Y,3],[3,'R',Y,3],[3,'C',Y,3],[4,'R',O,3],[4,'C',O,3],[5,'R',Y,3],[5,'C',Y,3],[6,'R',G,3],[6,'C',G,3],[7,'R',O,3],[7,'C',O,3],[8,'R',YL,1],[8,'C',YL,1],[9,'R',YL,1],[9,'C',YL,1]]},
e:{v:[[0.95],[-0.95,-0.95],[0.4,0.1,-0.1],[0.05,-0.3,0.2,0.85],[0.5,0.2,-0.25,0.95,0.95],[0.3,0.05,-0.1,0.8,0.5,0.75],[0.03,0.2,-0.1,-0.75,-0.95,-0.8,-0.5],[0.03,-0.15,0.1,0.8,0.7,0.8,0.4,-0.6],[0.05,-0.15,0.1,0.4,0.75,0.8,0.2,-0.6,0.4]],
 R:[168,19],Cc:[213,71],
 e:[[0,'R',YL,1],[0,'C',YL,1],[1,'R',YL,1],[1,'C',YL,1],[2,'R',YL,1],[2,'C',YL,1],[3,'R',G,2],[3,'C',G,2],[4,'R',O,3],[4,'C',O,3],[5,'R',O,3],[5,'C',O,3],[6,'R',GL,1],[6,'C',GL,1],[7,'R',O,3],[7,'C',O,3],[8,'R',YL,1],[8,'C',YL,1],[9,'R',YL,1],[9,'C',YL,1]]}
};
for(var key in P){
 var p=P[key],g=document.getElementById('g'+key);
 for(var i=0;i<p.v.length;i++){for(var j=0;j<p.v[i].length;j++){
  var r=p.v[i][j],x=j*C,y=i*R;
  el('rect',{x:x,y:y,width:C,height:R,fill:'#fff',stroke:'#cfcfcf','stroke-width':0.8},g);
  var s=Math.min(0.94,0.22+0.75*Math.abs(r));var w=C*s,h=R*s;
  el('rect',{x:x+(C-w)/2,y:y+(R-h)/2,width:w,height:h,fill:col(r),stroke:'#9a9a9a','stroke-width':0.5},g);
 }}
 var eg=el('g',{fill:'none'},g);
 var sorted=p.e.slice().sort(function(a,b){return (a[2]==YL||a[2]==Y?0:1)-(b[2]==YL||b[2]==Y?0:1);});
 sorted.forEach(function(e){
  var sx=37+C*e[0],sy=-17+R*e[0];var t=e[1]=='R'?p.R:p.Cc;
  var mx=(sx+t[0])/2,my=(sy+t[1])/2,dx=t[0]-sx,dy=t[1]-sy;
  var cx=mx+dy*0.18,cy=my-dx*0.18;
  el('path',{d:'M'+sx+','+sy+' Q'+cx+','+cy+' '+t[0]+','+t[1],stroke:e[2],'stroke-width':e[3],'stroke-linecap':'round'},eg);
 });
 for(var k=0;k<10;k++){el('circle',{cx:37+C*k,cy:-17+R*k,r:1.8,fill:'#b5156b'},g);}
 el('circle',{cx:p.R[0],cy:p.R[1],r:2,fill:'#b5156b'},g);
 el('circle',{cx:p.Cc[0],cy:p.Cc[1],r:2,fill:'#b5156b'},g);
}
})();
</script>
</body></html>
